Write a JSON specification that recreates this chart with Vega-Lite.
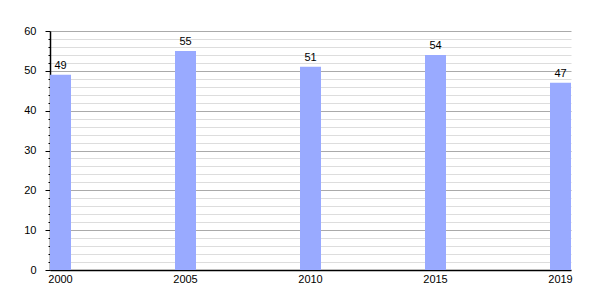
{
  "$schema": "https://vega.github.io/schema/vega-lite/v6.json",
  "width": 521,
  "height": 239,
  "autosize": {"type": "none"},
  "padding": {"left": 50, "top": 31, "right": 29, "bottom": 30},
  "background": "white",
  "config": {
    "view": {"stroke": null},
    "font": "Liberation Sans",
    "axis": {"labelFont": "Liberation Sans", "labelFontSize": 11, "labelColor": "black"}
  },
  "data": {
    "values": [
      {"year": "2000", "value": 49},
      {"year": "2005", "value": 55},
      {"year": "2010", "value": 51},
      {"year": "2015", "value": 54},
      {"year": "2019", "value": 47}
    ]
  },
  "encoding": {
    "x": {
      "field": "year",
      "type": "ordinal",
      "scale": {"paddingInner": 0.832, "paddingOuter": 0},
      "axis": {
        "title": null,
        "labelAngle": 0,
        "ticks": false,
        "labelPadding": 3,
        "domainColor": "black",
        "domainWidth": 1.5,
        "grid": false
      }
    },
    "y": {
      "field": "value",
      "type": "quantitative",
      "scale": {"domain": [0, 60], "nice": false}
    }
  },
  "layer": [
    {
      "mark": {"type": "bar", "color": "#99aaff"},
      "encoding": {
        "y": {
          "field": "value",
          "type": "quantitative",
          "axis": {
            "orient": "left",
            "title": null,
            "values": [2, 4, 6, 8, 12, 14, 16, 18, 22, 24, 26, 28, 32, 34, 36, 38, 42, 44, 46, 48, 52, 54, 56, 58],
            "labels": false,
            "tickSize": 2,
            "tickColor": "black",
            "domain": false,
            "grid": true,
            "gridColor": "#dddddd",
            "gridWidth": 1,
            "zindex": 0
          }
        }
      }
    },
    {
      "mark": {"type": "text", "dy": -9, "fontSize": 11, "color": "black", "font": "Liberation Sans"},
      "encoding": {
        "y": {
          "field": "value",
          "type": "quantitative",
          "axis": {
            "orient": "left",
            "title": null,
            "values": [0, 10, 20, 30, 40, 50, 60],
            "tickSize": 5,
            "tickColor": "black",
            "labelPadding": 9,
            "domainColor": "black",
            "domainWidth": 1.5,
            "grid": true,
            "gridColor": "#aaaaaa",
            "gridWidth": 1,
            "zindex": 0
          }
        },
        "text": {"field": "value", "type": "quantitative"}
      }
    }
  ],
  "resolve": {"axis": {"y": "independent"}}
}
